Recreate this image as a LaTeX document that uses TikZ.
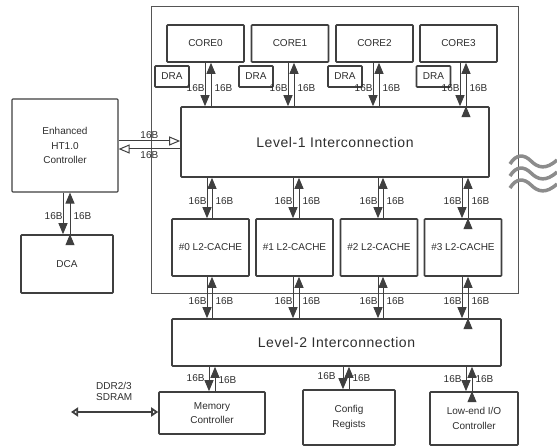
\documentclass[tikz,border=0pt]{standalone}
\usepackage{fontspec}
\setmainfont{Liberation Sans}
\usetikzlibrary{arrows.meta}

\definecolor{boxline}{HTML}{3F3F3F}
\definecolor{chipline}{HTML}{555555}
\definecolor{txt}{HTML}{2E2E2E}
\definecolor{wavegray}{HTML}{8C8C8C}

\begin{document}
\begin{tikzpicture}[
		x=1pt,y=-1pt,
		font=\fontsize{10}{14.5}\selectfont,
		>={Triangle[length=11pt,width=9pt]},
		blk/.style={draw=boxline,line width=1.6pt,rounded corners=0.8pt,fill=white,align=center,text=txt,inner sep=1pt},
		core/.style={blk,minimum width=77pt,minimum height=37pt},
		dra/.style={blk,minimum width=34pt,minimum height=21pt},
		cache/.style={blk,minimum width=77pt,minimum height=57pt},
		bigtext/.style={font=\fontsize{14}{16}\selectfont\addfontfeatures{LetterSpace=4}},
		bus/.style={->,draw=boxline,fill=boxline,line width=1pt},
		htbus/.style={-{Triangle[open,length=11pt,width=9pt]},draw=boxline,line width=1pt},
		ddrbus/.style={{Triangle[open,length=7pt,width=9pt]}-{Triangle[open,length=7pt,width=9pt]},draw=boxline,line width=2.6pt},
		lab/.style={font=\fontsize{10}{12}\selectfont,text=txt,inner sep=1pt},
		dl/.style={lab,anchor=east,xshift=1pt},
		ul/.style={lab,anchor=west,xshift=2pt},
		wave/.style={draw=wavegray,line width=3.5pt},
		]
		\useasboundingbox (0,0) rectangle (557,446);
		
		% chip outline
		\node[draw=chipline,line width=0.9pt,minimum width=367pt,minimum height=287pt,inner sep=0pt] (chip) at (334.5,149.5) {};
		
		\node[core] (c0) at (205.5,43.5) {CORE0};
		\node[core] (c1) at (290,43.5) {CORE1};
		\node[core] (c2) at (374.5,43.5) {CORE2};
		\node[core] (c3) at (458.5,43.5) {CORE3};
		\node[dra] (d0) at (172,76.5) {DRA};
		\node[dra] (d1) at (256,76.5) {DRA};
		\node[dra] (d2) at (345,76.5) {DRA};
		\node[dra] (d3) at (433.5,76.5) {DRA};
		
		\node[blk,bigtext,minimum width=308pt,minimum height=70pt] (l1) at (335,142) {Level-1 Interconnection};
		
		\node[cache] (l2c0) at (210.5,247.5) {\#0 L2-CACHE};
		\node[cache] (l2c1) at (294.5,247.5) {\#1 L2-CACHE};
		\node[cache] (l2c2) at (379,247.5) {\#2 L2-CACHE};
		\node[cache] (l2c3) at (463,247.5) {\#3 L2-CACHE};
		
		\node[blk,bigtext,minimum width=329pt,minimum height=47pt] (l2) at (336.5,342.5) {Level-2 Interconnection};
		
		\node[blk,line width=1.1pt,minimum width=106pt,minimum height=93pt] (ht) at (65,145.5) {Enhanced\\HT1.0\\Controller};
		\node[blk,minimum width=92pt,minimum height=58pt] (dca) at (67,264) {DCA};
		
		\node[blk,minimum width=106pt,minimum height=42pt] (mem) at (212,413) {Memory\\Controller};
		\node[blk,minimum width=92pt,minimum height=55pt] (cfg) at (349,417.5) {Config\\Regists};
		\node[blk,minimum width=88pt,minimum height=53pt] (lio) at (474,418.5) {Low-end I/O\\Controller};
		
		% cores <-> level-1
		\path[bus]
		([xshift=-0.5pt]c0.south) edge node[dl,pos=.58] {16B} ([xshift=-0.5pt]c0.south |- l1.north)
		([xshift=5.5pt]c0.south |- l1.north) edge node[ul,pos=.42] {16B} ([xshift=5.5pt]c0.south)
		([xshift=-2pt]c1.south) edge node[dl,pos=.58] {16B} ([xshift=-2pt]c1.south |- l1.north)
		([xshift=4pt]c1.south |- l1.north) edge node[ul,pos=.42] {16B} ([xshift=4pt]c1.south)
		([xshift=-1.5pt]c2.south) edge node[dl,pos=.58] {16B} ([xshift=-1.5pt]c2.south |- l1.north)
		([xshift=4.5pt]c2.south |- l1.north) edge node[ul,pos=.42] {16B} ([xshift=4.5pt]c2.south)
		([xshift=1.5pt]c3.south) edge node[dl,pos=.58] {16B} ([xshift=1.5pt]c3.south |- l1.north)
		([xshift=7.5pt]c3.south |- l1.north) edge node[ul,pos=.42] {16B} ([xshift=7.5pt]c3.south)
		;
		
		% level-1 <-> l2 caches
		\path[bus]
		([xshift=-3.5pt]l2c0.north |- l1.south) edge node[dl,pos=.57] {16B} ([xshift=-3.5pt]l2c0.north)
		([xshift=1.5pt]l2c0.north) edge node[ul,pos=.43] {16B} ([xshift=1.5pt]l2c0.north |- l1.south)
		([xshift=-1.5pt]l2c1.north |- l1.south) edge node[dl,pos=.57] {16B} ([xshift=-1.5pt]l2c1.north)
		([xshift=4.5pt]l2c1.north) edge node[ul,pos=.43] {16B} ([xshift=4.5pt]l2c1.north |- l1.south)
		([xshift=-1pt]l2c2.north |- l1.south) edge node[dl,pos=.57] {16B} ([xshift=-1pt]l2c2.north)
		([xshift=4pt]l2c2.north) edge node[ul,pos=.43] {16B} ([xshift=4pt]l2c2.north |- l1.south)
		([xshift=-1pt]l2c3.north |- l1.south) edge node[dl,pos=.57] {16B} ([xshift=-1pt]l2c3.north)
		([xshift=5pt]l2c3.north) edge node[ul,pos=.43] {16B} ([xshift=5pt]l2c3.north |- l1.south)
		;
		
		% l2 caches <-> level-2
		\path[bus]
		([xshift=-3.5pt]l2c0.south) edge node[dl,pos=.58] {16B} ([xshift=-3.5pt]l2c0.south |- l2.north)
		([xshift=1.5pt]l2c0.south |- l2.north) edge node[ul,pos=.42] {16B} ([xshift=1.5pt]l2c0.south)
		([xshift=-1.5pt]l2c1.south) edge node[dl,pos=.58] {16B} ([xshift=-1.5pt]l2c1.south |- l2.north)
		([xshift=4.5pt]l2c1.south |- l2.north) edge node[ul,pos=.42] {16B} ([xshift=4.5pt]l2c1.south)
		([xshift=-1pt]l2c2.south) edge node[dl,pos=.58] {16B} ([xshift=-1pt]l2c2.south |- l2.north)
		([xshift=4pt]l2c2.south |- l2.north) edge node[ul,pos=.42] {16B} ([xshift=4pt]l2c2.south)
		([xshift=-1pt]l2c3.south) edge node[dl,pos=.58] {16B} ([xshift=-1pt]l2c3.south |- l2.north)
		([xshift=5pt]l2c3.south |- l2.north) edge node[ul,pos=.42] {16B} ([xshift=5pt]l2c3.south)
		;
		
		% level-2 <-> memory, config, low-end io
		\path[bus]
		([xshift=-3pt]mem.north |- l2.south) edge node[dl,pos=.46,xshift=-4pt] {16B} ([xshift=-3pt]mem.north)
		([xshift=3pt]mem.north) edge node[ul,pos=.46] {16B} ([xshift=3pt]mem.north |- l2.south)
		([xshift=-6pt]cfg.north |- l2.south) edge node[dl,pos=.42,xshift=-7pt] {16B} ([xshift=-6pt]cfg.north)
		([xshift=0pt]cfg.north) edge node[ul,pos=.5] {16B} ([xshift=0pt]cfg.north |- l2.south)
		([xshift=-8pt]lio.north |- l2.south) edge node[dl,pos=.5,xshift=-4pt] {16B} ([xshift=-8pt]lio.north)
		([xshift=-2pt]lio.north) edge node[ul,pos=.5] {16B} ([xshift=-2pt]lio.north |- l2.south)
		;
		
		% ht <-> dca
		\path[bus]
		([xshift=-2pt]ht.south) edge node[dl,pos=.56] {16B} ([xshift=-2pt]ht.south |- dca.north)
		([xshift=5pt]ht.south |- dca.north) edge node[ul,pos=.44] {16B} ([xshift=5pt]ht.south)
		;
		
		% ht <-> level-1
		\draw[htbus] ([yshift=4.5pt]ht.east) -- node[lab,above=1pt] {16B} ([yshift=4.5pt]ht.east -| l1.west);
		\draw[htbus] ([yshift=-3.5pt]ht.east -| l1.west) -- node[lab,below=1pt] {16B} ([yshift=-3.5pt]ht.east);
		
		% external memory
		\coordinate (ddr) at (71,412);
		\draw[ddrbus] (ddr) -- (ddr -| mem.west);
		\node[lab,align=left,anchor=west] (ddrlab) at (95,391.5) {DDR2/3\\[-1pt]SDRAM};
		
		% waves
		\draw[wave] (510,164) .. controls (516,154) and (524,154) .. (531,161) .. controls (538,168) and (546,170) .. (557,160);
		\draw[wave] (510,176) .. controls (516,166) and (524,166) .. (531,173) .. controls (538,180) and (546,182) .. (557,172);
		\draw[wave] (510,188) .. controls (516,178) and (524,178) .. (531,185) .. controls (538,192) and (546,194) .. (557,184);
		
		\end{tikzpicture}
\end{document}
